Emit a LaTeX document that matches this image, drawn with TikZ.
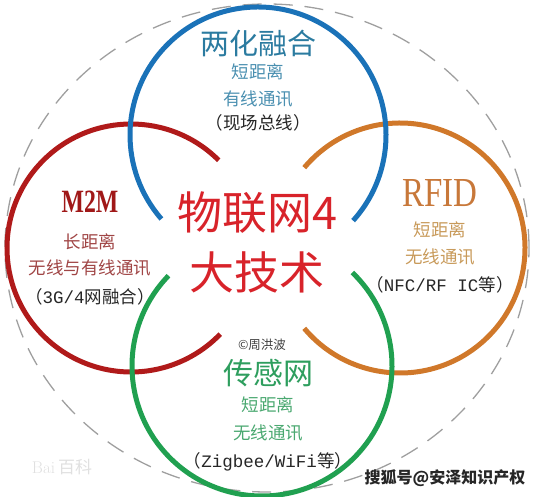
\documentclass[tikz,border=0pt]{standalone}
\usepackage{fontspec}
\usetikzlibrary{positioning}
\newfontfamily\cjk{Noto Sans CJK SC}
\newfontfamily\latserif{Liberation Serif}
\newfontfamily\latmono{Liberation Mono}
\newcommand\fsz[1]{\fontsize{#1}{#1}\selectfont}
\newcommand\parlat[2]{{\cjk （}{\latmono #1}{\cjk #2）}}
\definecolor{ringblue}{HTML}{1A72B8}
\definecolor{ringred}{HTML}{B01A1A}
\definecolor{ringorange}{HTML}{D0782A}
\definecolor{ringgreen}{HTML}{20A050}
\definecolor{txtblue}{HTML}{2B7BA0}
\definecolor{subblue}{HTML}{4A8FB0}
\definecolor{txtred}{HTML}{A01818}
\definecolor{subred}{HTML}{A04545}
\definecolor{txtcenter}{HTML}{D8232A}
\definecolor{txtorange}{HTML}{C8783A}
\definecolor{suborange}{HTML}{C89A5A}
\definecolor{txtgreen}{HTML}{2E9E5E}
\definecolor{subgreen}{HTML}{4AA870}

\begin{document}
\begin{tikzpicture}[x=1pt, y=1pt]
			\tikzset {node distance=27pt, on grid, every node/.style={inner sep=0pt},
				ring/.style={line width=5pt}, title/.style={font=\cjk\fsz{29}},
				subtext/.style={font=\cjk\fsz{17.5}}, partext/.style={font=\fsz{17.5}, text=black!85} }
			\useasboundingbox (0,0) rectangle (535,497);

			\coordinate (cdash) at (267,249);
			\coordinate (cblue) at (258,362);
			\coordinate (cred) at (131,249);
			\coordinate (corange) at (400,249);
			\coordinate (cgreen) at (262,131);

			% rings
			\draw[gray!75, line width=1.3pt, dash pattern=on 19pt off 12pt] (cdash) ellipse[x radius=262, y radius=244];
			\draw[ring, ringred] (cred) ++(45:124) arc[start angle=45, end angle=316, radius=124];
			\draw[ring, ringorange] (corange) ++(220:125) arc[start angle=220, end angle=500, radius=125];
			\draw[ring, ringblue] (cblue) ++(-42:128) arc[start angle=-42, end angle=221, radius=128];
			\draw[ring, ringgreen] (cgreen) ++(136:130) arc[start angle=136, end angle=406, radius=130];

			% top
			\node[title, text=txtblue] (bluetitle) at (258,454) {两化融合};
			\node[subtext, text=subblue, below=29pt of bluetitle] (bluesub1) {短距离};
			\node[subtext, text=subblue, below=of bluesub1] (bluesub2) {有线通讯};
			\node[partext, font=\cjk\fsz{17.5}, below=24pt of bluesub2] (bluepar) {（现场总线）};

			% left
			\node[font=\latserif\bfseries\fsz{25}, text=txtred] (redtitle) at (90,295) {\scalebox{0.95}[1.3]{M2M}};
			\node[subtext, text=subred, below=40pt of redtitle] (redsub1) {长距离};
			\node[subtext, text=subred, below=26pt of redsub1] (redsub2) {无线与有线通讯};
			\node[partext, below=29pt of redsub2] (redpar) {\parlat{3G/4}{网融合}};

			% centre
			\node[font=\cjk\fsz{45}, text=txtcenter] (centre1) at (257,284) {物联网4};
			\node[font=\cjk\fsz{45}, text=txtcenter, below=59pt of centre1] (centre2) {大技术};

			% right
			\node[font=\latserif\fsz{33}, text=txtorange] (orangetitle) at (440,304) {\scalebox{1}[1.25]{RFID}};
			\node[subtext, text=suborange, below=37pt of orangetitle] (orangesub1) {短距离};
			\node[subtext, text=suborange, below=of orangesub1] (orangesub2) {无线通讯};
			\node[partext, below=28pt of orangesub2] (orangepar) {\parlat{NFC/RF IC}{等}};

			% bottom
			\node[font=\cjk\fsz{12.5}, text=black!75] (copy) at (262,152) {©周洪波};
			\node[title, font=\cjk\fsz{30}, text=txtgreen, below=28pt of copy, xshift=6pt] (greentitle) {传感网};
			\node[subtext, text=subgreen, below=32pt of greentitle] (greensub1) {短距离};
			\node[subtext, text=subgreen, below=28pt of greensub1] (greensub2) {无线通讯};
			\node[partext, below=29pt of greensub2] (greenpar) {\parlat{Zigbee/WiFi}{等}};

			% marks
			\node[font=\fsz{17}, text=black!12] (baidu) at (62,30) {Bai\,{\cjk 百科}};
			\node[font=\cjk\bfseries\fsz{16}, text=black!85] (sohu) at (445,19) {搜狐号@安泽知识产权};
\end{tikzpicture}
\end{document}
